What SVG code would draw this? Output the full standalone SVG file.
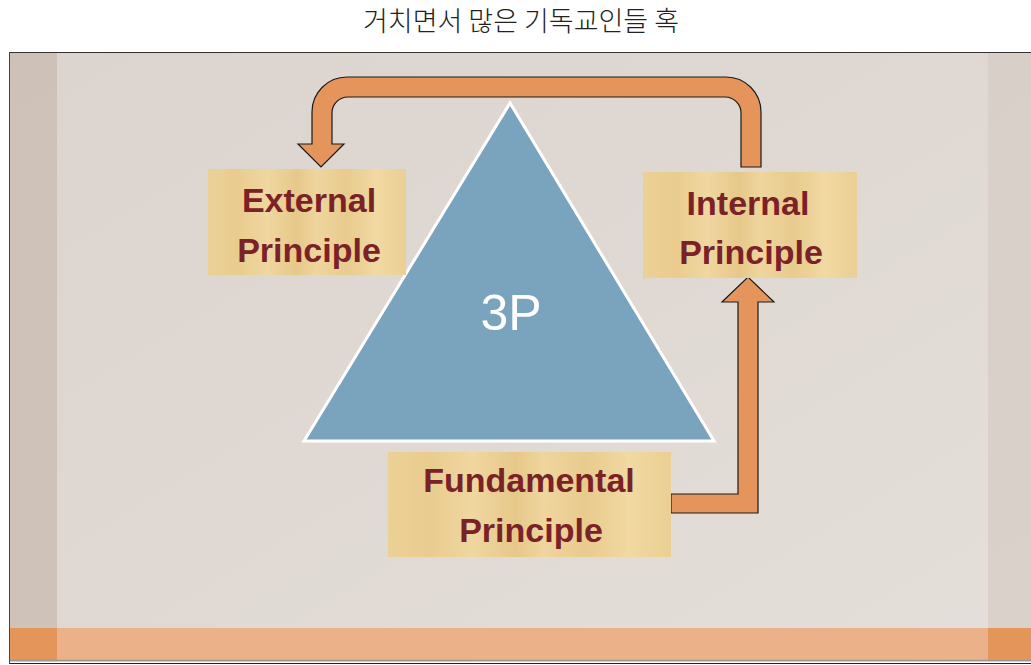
<svg xmlns="http://www.w3.org/2000/svg" width="1031" height="665" viewBox="0 0 1031 665">
<defs>
<style>
.title{font-family:"Noto Sans CJK KR","Noto Sans",sans-serif;font-size:27px;fill:#222;font-weight:300}
.lbl{font-family:"Liberation Sans",Arial,sans-serif;font-size:34px;font-weight:bold;fill:#7a2228;text-anchor:middle}
.box{fill:url(#papyrus)}
.arrow{fill:#e5955b;stroke:#1a1a1a;stroke-width:1.2;stroke-linejoin:miter}
</style>
<linearGradient id="bg" x1="0" y1="0" x2="1" y2="1">
<stop offset="0" stop-color="#dcd4ce"/>
<stop offset="0.5" stop-color="#e0d9d3"/>
<stop offset="1" stop-color="#e4dfda"/>
</linearGradient>
<linearGradient id="papyrus" x1="0" y1="0" x2="1" y2="0">
<stop offset="0" stop-color="#ecd197"/>
<stop offset="0.15" stop-color="#e9cc8e"/>
<stop offset="0.3" stop-color="#f0d7a0"/>
<stop offset="0.45" stop-color="#e6c889"/>
<stop offset="0.55" stop-color="#efd59e"/>
<stop offset="0.7" stop-color="#e8cb8d"/>
<stop offset="0.85" stop-color="#f1d9a2"/>
<stop offset="1" stop-color="#ebcf93"/>
</linearGradient>
</defs>
<rect x="0" y="0" width="1031" height="665" fill="#ffffff"/>
<text class="title" x="521" y="31" text-anchor="middle">거치면서 많은 기독교인들 혹</text>
<g id="frame">
<rect x="9" y="52" width="1022" height="610" fill="url(#bg)"/>
<rect x="9" y="52" width="48" height="576" fill="#cbbdb3" opacity="0.8"/>
<rect x="988" y="52" width="43" height="576" fill="#d6cdc6" opacity="0.8"/>
<rect x="9" y="628" width="1022" height="32" fill="#ebb188"/>
<rect x="9" y="628" width="48" height="32" fill="#e3955a"/>
<rect x="988" y="628" width="43" height="32" fill="#e3955a"/>
<line x1="9" y1="660.5" x2="1031" y2="660.5" stroke="#999" stroke-width="1.5"/>
<line x1="9" y1="663.5" x2="1031" y2="663.5" stroke="#222" stroke-width="1"/>
<line x1="9" y1="52.5" x2="1031" y2="52.5" stroke="#333" stroke-width="1.2"/>
<line x1="9.5" y1="52" x2="9.5" y2="664" stroke="#444" stroke-width="1"/>
</g>
<g id="triangle">
<polygon points="510,103 304,441 714,441" fill="#7aa3be" stroke="#ffffff" stroke-width="3" stroke-linejoin="miter"/>
<text x="511" y="330" font-family="'Liberation Sans',Arial,sans-serif" font-size="50" fill="#ffffff" text-anchor="middle">3P</text>
</g>
<g id="connectors">
<path class="arrow" d="M741 167 L741 113 A16 16 0 0 0 725 97 L348 97 A16 16 0 0 0 332 113 L332 144 L344 144 L321 167 L298 144 L312 144 L312 112 A35 35 0 0 1 347 77 L726 77 A35 35 0 0 1 761 112 L761 167 Z"/>
<path class="arrow" d="M671 494 L738 494 L738 302 L722 302 L748 277 L774 302 L758 302 L758 513 L671 513 Z"/>
</g>
<g id="external">
<rect class="box" x="208" y="169" width="198" height="106"/>
<text class="lbl" x="309" y="212">External</text>
<text class="lbl" x="309" y="262">Principle</text>
</g>
<g id="internal">
<rect class="box" x="643" y="172" width="214" height="106"/>
<text class="lbl" x="748" y="215">Internal</text>
<text class="lbl" x="751" y="264">Principle</text>
</g>
<g id="fundamental">
<rect class="box" x="388" y="452" width="283" height="105"/>
<text class="lbl" x="529" y="492">Fundamental</text>
<text class="lbl" x="531" y="542">Principle</text>
</g>
</svg>
